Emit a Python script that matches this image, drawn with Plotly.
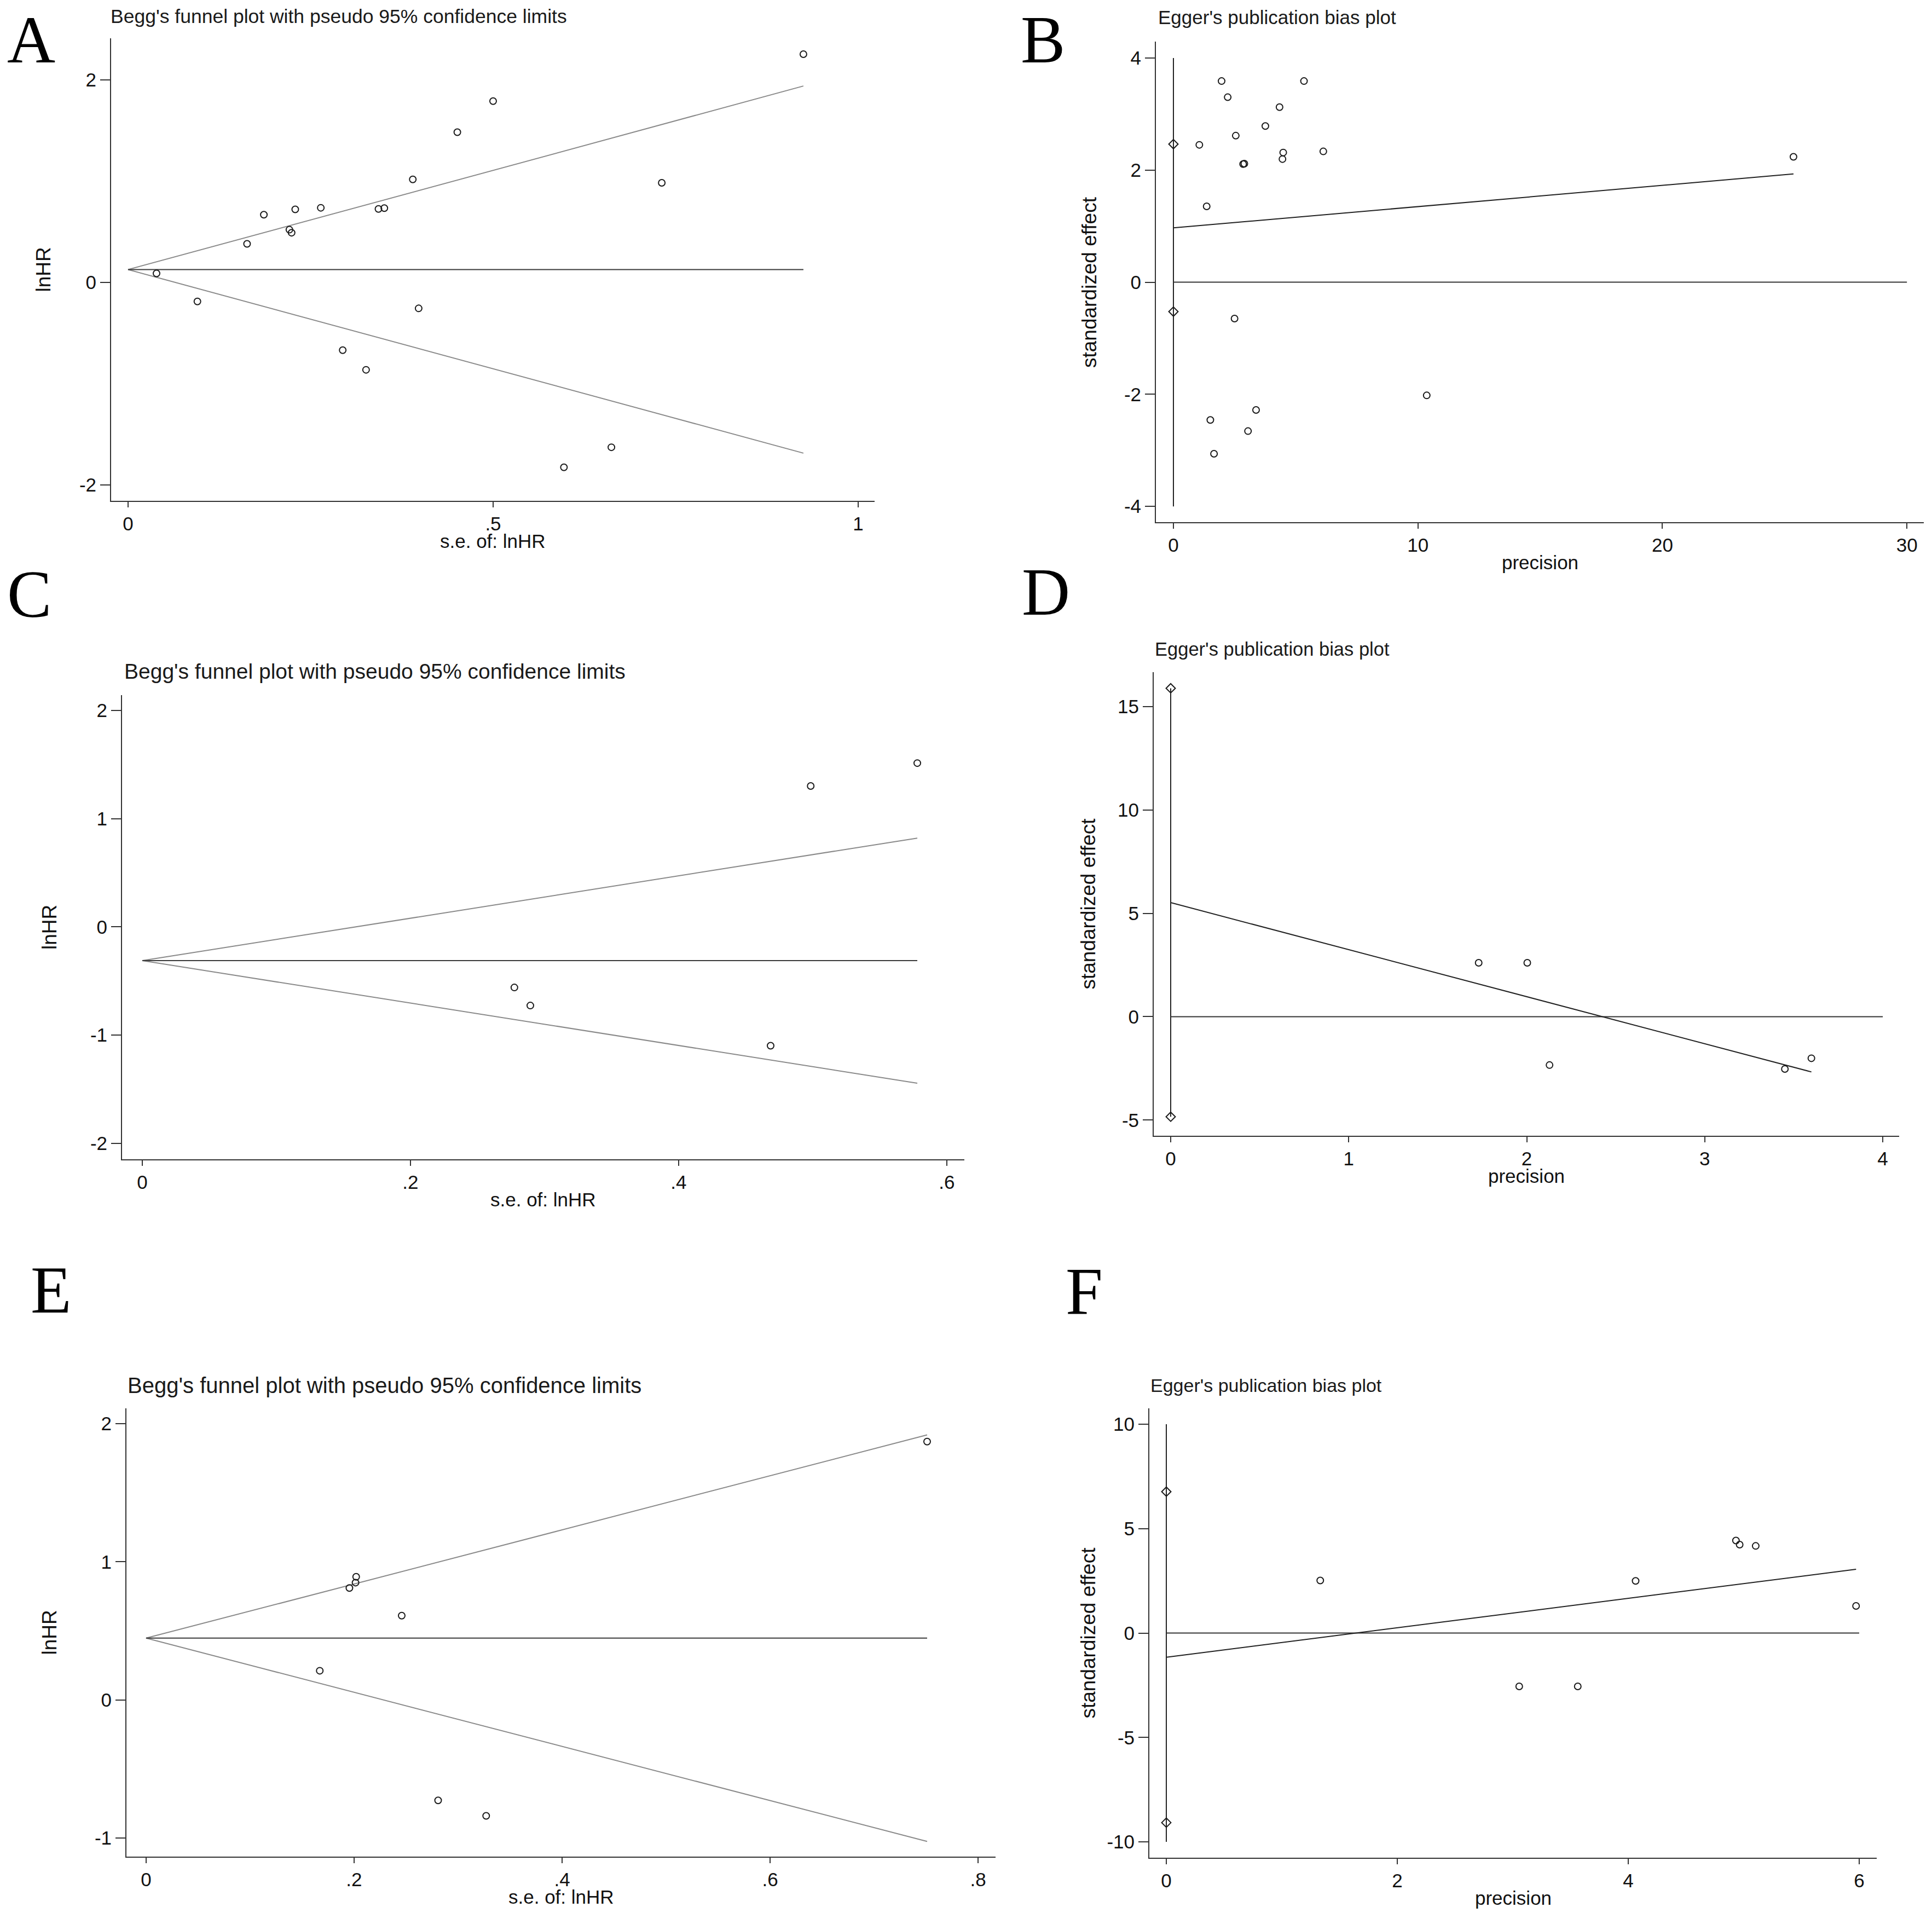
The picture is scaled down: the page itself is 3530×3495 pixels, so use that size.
import plotly.graph_objects as go

W, H = 3530, 3495

# ---------------- data ----------------
# Panel A: Begg's funnel plot
A_se = [0.039, 0.095, 0.163, 0.186, 0.221, 0.224, 0.229, 0.264, 0.294, 0.326,
        0.343, 0.351, 0.390, 0.398, 0.451, 0.500, 0.597, 0.662, 0.731, 0.925]
A_lnhr = [0.089, -0.188, 0.381, 0.669, 0.521, 0.491, 0.722, 0.737, -0.669, -0.863,
          0.726, 0.734, 1.018, -0.256, 1.484, 1.791, -1.826, -1.628, 0.984, 2.254]
A_theta = 0.127

# Panel B: Egger's plot
B_prec = [1.06, 1.36, 1.51, 1.66, 1.97, 2.22, 2.50, 2.55, 2.85, 2.90,
          3.05, 3.38, 3.76, 4.34, 4.46, 4.49, 5.34, 6.13, 10.36, 25.36]
B_eff = [2.451, 1.354, -2.458, -3.061, 3.589, 3.301, -0.648, 2.615, 2.108, 2.115,
         -2.656, -2.279, 2.787, 3.123, 2.197, 2.314, 3.589, 2.334, -2.019, 2.238]
B_intercept, B_slope = 0.97, 0.0379
B_ci = [2.464, -0.524]
B_vline = [-4, 4]

# Panel C: Begg's funnel plot
C_se = [0.2775, 0.2894, 0.4686, 0.4985, 0.578]
C_lnhr = [-0.560, -0.727, -1.098, 1.302, 1.514]
C_theta = -0.312

# Panel D: Egger's plot
D_prec = [1.730, 2.003, 2.128, 3.450, 3.599]
D_eff = [2.61, 2.61, -2.34, -2.53, -2.01]
D_intercept, D_slope = 5.52, -2.276
D_ci = [15.89, -4.84]
D_vline = [-4.84, 15.89]

# Panel E: Begg's funnel plot
E_se = [0.167, 0.1955, 0.2014, 0.202, 0.2458, 0.2808, 0.327, 0.751]
E_lnhr = [0.211, 0.810, 0.849, 0.891, 0.610, -0.728, -0.840, 1.870]
E_theta = 0.447

# Panel F: Egger's plot
F_prec = [1.333, 3.056, 3.563, 4.064, 4.933, 4.965, 5.104, 5.973]
F_eff = [2.515, -2.555, -2.555, 2.495, 4.431, 4.232, 4.172, 1.297]
F_intercept, F_slope = -1.158, 0.705
F_ci = [6.77, -9.08]
F_vline = [-10, 10]

# tick labels
A_xticks, A_xtext = [0, 0.5, 1], ["0", ".5", "1"]
A_yticks, A_ytext = [-2, 0, 2], ["-2", "0", "2"]
B_xticks, B_xtext = [0, 10, 20, 30], ["0", "10", "20", "30"]
B_yticks, B_ytext = [-4, -2, 0, 2, 4], ["-4", "-2", "0", "2", "4"]
C_xticks, C_xtext = [0, 0.2, 0.4, 0.6], ["0", ".2", ".4", ".6"]
C_yticks, C_ytext = [-2, -1, 0, 1, 2], ["-2", "-1", "0", "1", "2"]
D_xticks, D_xtext = [0, 1, 2, 3, 4], ["0", "1", "2", "3", "4"]
D_yticks, D_ytext = [-5, 0, 5, 10, 15], ["-5", "0", "5", "10", "15"]
E_xticks, E_xtext = [0, 0.2, 0.4, 0.6, 0.8], ["0", ".2", ".4", ".6", ".8"]
E_yticks, E_ytext = [-1, 0, 1, 2], ["-1", "0", "1", "2"]
F_xticks, F_xtext = [0, 2, 4, 6], ["0", "2", "4", "6"]
F_yticks, F_ytext = [-10, -5, 0, 5, 10], ["-10", "-5", "0", "5", "10"]

BEGG_TITLE = "Begg's funnel plot with pseudo 95% confidence limits"
EGGER_TITLE = "Egger's publication bias plot"

# ---------------- styling / layout ----------------
FONT = "Arial, 'Liberation Sans', Helvetica, sans-serif"
SERIF = "'Times New Roman', 'Liberation Serif', serif"
AXC = "#333333"
TXT = "#111111"
FUNNEL_C = "#8a8a8a"

# panel boxes in pixels: left, right, top, bottom ; ranges x, y
panels = [
    dict(name="A", kind="begg", box=(203, 1598, 70, 915), xr=(-0.0232, 1.0225), yr=(-2.157, 2.411),
         xt=(A_xticks, A_xtext), yt=(A_yticks, A_ytext),
         title=(200, 30, 35.5), ytitle_x=79, letter=(57, 72)),
    dict(name="B", kind="egger", box=(2112, 3515, 76, 954), xr=(-0.716, 30.69), yr=(-4.281, 4.293),
         xt=(B_xticks, B_xtext), yt=(B_yticks, B_ytext),
         title=(2114, 32, 35), ytitle_x=1990, letter=(1905, 73)),
    dict(name="C", kind="begg", box=(223, 1762, 1270, 2118), xr=(-0.0151, 0.6131), yr=(-2.148, 2.142),
         xt=(C_xticks, C_xtext), yt=(C_yticks, C_ytext),
         title=(225, 1226, 39), ytitle_x=90, letter=(53, 1086)),
    dict(name="D", kind="egger", box=(2108, 3470, 1228, 2075), xr=(-0.0953, 4.092), yr=(-5.76, 16.67),
         xt=(D_xticks, D_xtext), yt=(D_yticks, D_ytext),
         title=(2108, 1186, 34.5), ytitle_x=1988, letter=(1911, 1082)),
    dict(name="E", kind="begg", box=(231, 1819, 2573, 3392), xr=(-0.0189, 0.8168), yr=(-1.135, 2.111),
         xt=(E_xticks, E_xtext), yt=(E_yticks, E_ytext),
         title=(231, 2531, 40), ytitle_x=90, letter=(93, 2356)),
    dict(name="F", kind="egger", box=(2100, 3429, 2573, 3394), xr=(-0.147, 6.152), yr=(-10.76, 10.76),
         xt=(F_xticks, F_xtext), yt=(F_yticks, F_ytext),
         title=(2100, 2531, 34), ytitle_x=1988, letter=(1981, 2358)),
]

begg_data = {"A": (A_se, A_lnhr, A_theta), "C": (C_se, C_lnhr, C_theta), "E": (E_se, E_lnhr, E_theta)}
egger_data = {"B": (B_prec, B_eff, B_intercept, B_slope, B_ci, B_vline, B_xticks),
              "D": (D_prec, D_eff, D_intercept, D_slope, D_ci, D_vline, D_xticks),
              "F": (F_prec, F_eff, F_intercept, F_slope, F_ci, F_vline, F_xticks)}


def pxx(x):
    return x / W


def pyy(y):
    return 1 - y / H


fig = go.Figure()
layout = dict(width=W, height=H, margin=dict(l=0, r=0, t=0, b=0),
              paper_bgcolor="white", plot_bgcolor="white", showlegend=False,
              font=dict(family=FONT, color=TXT))
annotations = []

for i, p in enumerate(panels, start=1):
    xa = "x" if i == 1 else f"x{i}"
    ya = "y" if i == 1 else f"y{i}"
    l, r, t, b = p["box"]
    axis_common = dict(showline=True, linecolor=AXC, linewidth=2, ticks="outside",
                       tickwidth=2, tickcolor=AXC, showgrid=False, zeroline=False,
                       tickfont=dict(family=FONT, size=35, color=TXT), tickmode="array")
    layout["xaxis" if i == 1 else f"xaxis{i}"] = dict(
        axis_common, ticklen=10, domain=[pxx(l), pxx(r)], range=list(p["xr"]), anchor=ya,
        tickvals=p["xt"][0], ticktext=p["xt"][1])
    layout["yaxis" if i == 1 else f"yaxis{i}"] = dict(
        axis_common, ticklen=18, domain=[pyy(b), pyy(t)], range=list(p["yr"]), anchor=xa,
        tickvals=p["yt"][0], ticktext=p["yt"][1])

    if p["kind"] == "begg":
        se, lnhr, theta = begg_data[p["name"]]
        smax = max(se)
        # pseudo 95% confidence limits
        fig.add_trace(go.Scatter(x=[0, smax], y=[theta, theta + 1.96 * smax], mode="lines",
                                 line=dict(color=FUNNEL_C, width=2), xaxis=xa, yaxis=ya, hoverinfo="skip"))
        fig.add_trace(go.Scatter(x=[0, smax], y=[theta, theta - 1.96 * smax], mode="lines",
                                 line=dict(color=FUNNEL_C, width=2), xaxis=xa, yaxis=ya, hoverinfo="skip"))
        fig.add_trace(go.Scatter(x=[0, smax], y=[theta, theta], mode="lines",
                                 line=dict(color="#3a3a3a", width=2), xaxis=xa, yaxis=ya, hoverinfo="skip"))
        fig.add_trace(go.Scatter(x=se, y=lnhr, mode="markers",
                                 marker=dict(symbol="circle-open", size=12, color="#1a1a1a",
                                             line=dict(width=2, color="#1a1a1a")),
                                 xaxis=xa, yaxis=ya))
        title_txt = BEGG_TITLE
        ytitle = "lnHR"
        xtitle = "s.e. of: lnHR"
    else:
        prec, eff, b0, b1, ci, vline, xt = egger_data[p["name"]]
        pmax = max(prec)
        fig.add_trace(go.Scatter(x=[0, 0], y=vline, mode="lines",
                                 line=dict(color="#222222", width=2), xaxis=xa, yaxis=ya, hoverinfo="skip"))
        fig.add_trace(go.Scatter(x=[0, max(xt)], y=[0, 0], mode="lines",
                                 line=dict(color="#333333", width=2), xaxis=xa, yaxis=ya, hoverinfo="skip"))
        fig.add_trace(go.Scatter(x=[0, pmax], y=[b0, b0 + b1 * pmax], mode="lines",
                                 line=dict(color="#222222", width=2), xaxis=xa, yaxis=ya, hoverinfo="skip"))
        fig.add_trace(go.Scatter(x=[0] * len(ci), y=ci, mode="markers",
                                 marker=dict(symbol="diamond-open", size=13, color="#1a1a1a",
                                             line=dict(width=2, color="#1a1a1a")),
                                 xaxis=xa, yaxis=ya))
        fig.add_trace(go.Scatter(x=prec, y=eff, mode="markers",
                                 marker=dict(symbol="circle-open", size=12, color="#1a1a1a",
                                             line=dict(width=2, color="#1a1a1a")),
                                 xaxis=xa, yaxis=ya))
        title_txt = EGGER_TITLE
        ytitle = "standardized effect"
        xtitle = "precision"

    # panel title
    tx, ty, tsize = p["title"]
    annotations.append(dict(text=title_txt, x=pxx(tx), y=pyy(ty), xref="paper", yref="paper",
                            xanchor="left", yanchor="middle", showarrow=False,
                            font=dict(family=FONT, size=tsize, color="#1a1a1a")))
    # x-axis title
    annotations.append(dict(text=xtitle, x=pxx((l + r) / 2), y=pyy(b + 73), xref="paper", yref="paper",
                            xanchor="center", yanchor="middle", showarrow=False,
                            font=dict(family=FONT, size=35, color=TXT)))
    # y-axis title
    annotations.append(dict(text=ytitle, x=pxx(p["ytitle_x"]), y=pyy((t + b) / 2), xref="paper", yref="paper",
                            xanchor="center", yanchor="middle", showarrow=False, textangle=-90,
                            font=dict(family=FONT, size=37, color=TXT)))
    # panel letter
    lx, ly = p["letter"]
    annotations.append(dict(text=p["name"], x=pxx(lx), y=pyy(ly), xref="paper", yref="paper",
                            xanchor="center", yanchor="middle", showarrow=False,
                            font=dict(family=SERIF, size=122, color="#000000")))

layout["annotations"] = annotations
fig.update_layout(**layout)

fig.write_html("out.html", config={"displayModeBar": False},
               post_script="document.body.style.margin='0';")
